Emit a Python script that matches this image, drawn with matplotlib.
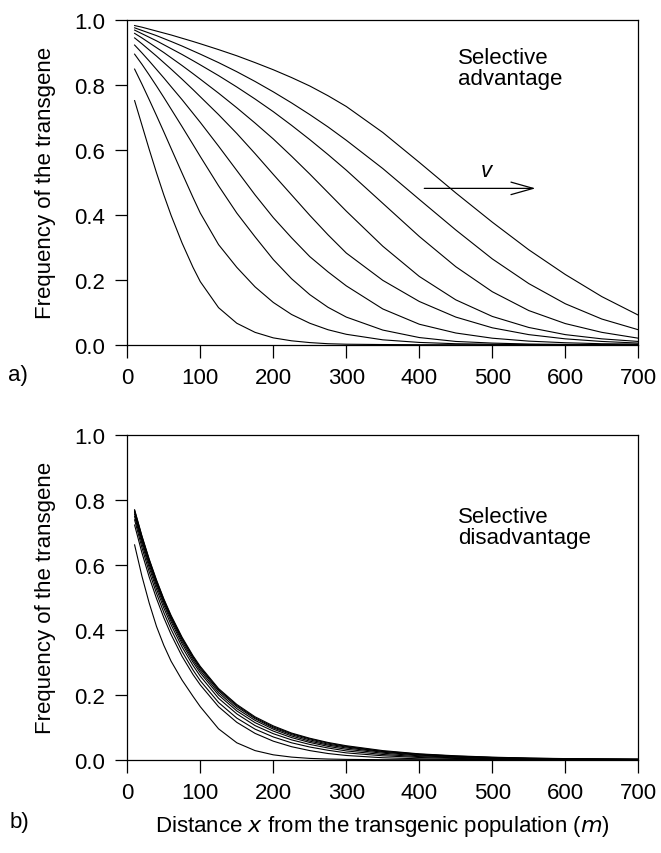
import numpy as np
import matplotlib
matplotlib.use("Agg")
import matplotlib.pyplot as plt

plt.rcParams['font.family'] = ['Liberation Sans', 'DejaVu Sans']

# distance grid (m) shared by all curves
x = [10, 20, 30, 40, 50, 60, 75, 90, 100, 125, 150, 175, 200, 225, 250, 275,
     300, 350, 400, 450, 500, 550, 600, 650, 700]

# a) selective advantage - successive fronts
adv_1 = [.751, .676, .601, .529, .461, .398, .313, .238, .194, .114, .066, .038, .021, .012, .0065, .003,
         .0015, .0005, 0, 0, 0, 0, 0, 0, 0]
adv_2 = [.848, .802, .754, .705, .655, .604, .528, .453, .405, .308, .238, .178, .130, .093, .066, .046,
         .032, .015, .007, .003, .0015, .0007, 0, 0, 0]
adv_3 = [.894, .863, .830, .796, .761, .725, .671, .616, .579, .489, .405, .332, .262, .203, .154, .115,
         .085, .045, .022, .010, .005, .002, .001, 0, 0]
adv_4 = [.922, .898, .873, .847, .821, .794, .754, .712, .684, .611, .536, .461, .391, .329, .271, .224,
         .181, .110, .063, .036, .020, .011, .006, .003, .002]
adv_5 = [.944, .926, .907, .888, .868, .848, .817, .785, .763, .708, .650, .588, .524, .461, .398, .338,
         .282, .198, .133, .085, .052, .031, .018, .010, .005]
adv_6 = [.958, .944, .929, .914, .899, .883, .859, .834, .817, .774, .729, .682, .633, .580, .525, .468,
         .411, .303, .210, .138, .087, .053, .031, .018, .010]
adv_7 = [.968, .957, .946, .935, .923, .911, .893, .874, .861, .828, .793, .756, .717, .675, .631, .585,
         .537, .435, .333, .240, .163, .105, .065, .038, .020]
adv_8 = [.975, .967, .959, .951, .942, .933, .919, .904, .894, .868, .840, .810, .778, .744, .708, .670,
         .629, .542, .447, .353, .264, .188, .126, .079, .046]
adv_9 = [.982, .977, .971, .965, .959, .953, .943, .933, .926, .908, .889, .868, .846, .822, .796, .766,
         .733, .653, .561, .467, .377, .292, .216, .148, .091]
advantage = [adv_1, adv_2, adv_3, adv_4, adv_5, adv_6, adv_7, adv_8, adv_9]

# b) selective disadvantage - profiles settle on a stationary curve
dis_1 = [.661, .565, .482, .410, .352, .303, .245, .195, .163, .095, .052, .028, .015, .008, .004, .002,
         .001, 0, 0, 0, 0, 0, 0, 0, 0]
dis_2 = [.722, .637, .562, .496, .437, .385, .318, .262, .230, .163, .115, .081, .057, .040, .028, .019,
         .013, .006, .0028, .0013, .0006, .0003, 0, 0, 0]
dis_3 = [.738, .653, .578, .512, .453, .401, .333, .276, .243, .176, .128, .094, .070, .052, .039, .029,
         .021, .012, .0068, .0038, .0021, .0012, .0007, .0004, .0002]
dis_4 = [.748, .665, .591, .525, .467, .415, .347, .290, .257, .189, .141, .105, .080, .061, .047, .036,
         .027, .016, .0095, .0057, .0034, .002, .0012, .0007, .0004]
dis_5 = [.755, .673, .600, .535, .477, .425, .357, .300, .267, .199, .150, .114, .088, .068, .053, .041,
         .032, .020, .012, .0075, .0047, .003, .0019, .0012, .0008]
dis_6 = [.760, .679, .607, .542, .484, .432, .364, .307, .274, .206, .157, .121, .094, .073, .057, .045,
         .036, .023, .014, .009, .0057, .0036, .0023, .0015, .001]
dis_7 = [.764, .684, .612, .547, .489, .437, .370, .313, .280, .212, .163, .126, .098, .077, .061, .048,
         .039, .025, .016, .010, .0065, .004, .0027, .0018, .0012]
dis_8 = [.767, .687, .615, .551, .493, .441, .374, .317, .284, .216, .167, .129, .101, .080, .064, .051,
         .041, .026, .017, .011, .007, .0045, .003, .002, .0013]
dis_9 = [.769, .689, .617, .553, .495, .444, .377, .320, .287, .219, .170, .132, .104, .082, .066, .053,
         .043, .028, .018, .012, .0078, .005, .0034, .0022, .0015]
disadvantage = [dis_1, dis_2, dis_3, dis_4, dis_5, dis_6, dis_7, dis_8, dis_9]

xticks = [0, 100, 200, 300, 400, 500, 600, 700]
yticks = [0.0, 0.2, 0.4, 0.6, 0.8, 1.0]

W, H = 661, 854
FS = 16
fig = plt.figure(figsize=(W / 100, H / 100), dpi=100)


def px_axes(left, top, right, bottom):
    return fig.add_axes([left / W, 1 - bottom / H, (right - left) / W, (bottom - top) / H])


def style(ax):
    ax.set_xlim(0, 700)
    ax.set_ylim(0, 1)
    ax.set_xticks(xticks)
    ax.set_yticks(yticks)
    ax.set_yticklabels([f"{v:.1f}" for v in yticks])
    ax.tick_params(direction='out', length=9, width=0.9, labelsize=FS, pad=7,
                   top=False, right=False)
    for s in ax.spines.values():
        s.set_linewidth(0.9)
    ax.set_ylabel("Frequency of the transgene", fontsize=FS, labelpad=13)


ax1 = px_axes(127.3, 20.7, 638.3, 345.7)
for ys in advantage:
    ax1.plot(x, ys, color='black', lw=0.8)
style(ax1)
ax1.text(453, 0.915, "Selective\nadvantage", fontsize=FS, va='top', ha='left', linespacing=1.0)
ax1.annotate("", xy=(563, 0.481), xytext=(403, 0.481),
             arrowprops=dict(arrowstyle='->,head_length=1.6,head_width=0.45', color='black', lw=0.9))
ax1.text(492, 0.535, "v", fontsize=FS, style='italic', ha='center', va='center')
fig.text(8 / W, 1 - 376 / H, "a)", fontsize=FS, va='center')

ax2 = px_axes(127.3, 435.7, 638.3, 760.7)
for ys in disadvantage:
    ax2.plot(x, ys, color='black', lw=0.8)
style(ax2)
ax2.text(453, 0.78, "Selective\ndisadvantage", fontsize=FS, va='top', ha='left', linespacing=1.0)
ax2.set_xlabel("Distance $\\it{x}$ from the transgenic population ($\\it{m}$)", fontsize=FS, labelpad=7)
fig.text(10 / W, 1 - 823 / H, "b)", fontsize=FS, va='center')

fig.savefig("out.png", dpi=100)
